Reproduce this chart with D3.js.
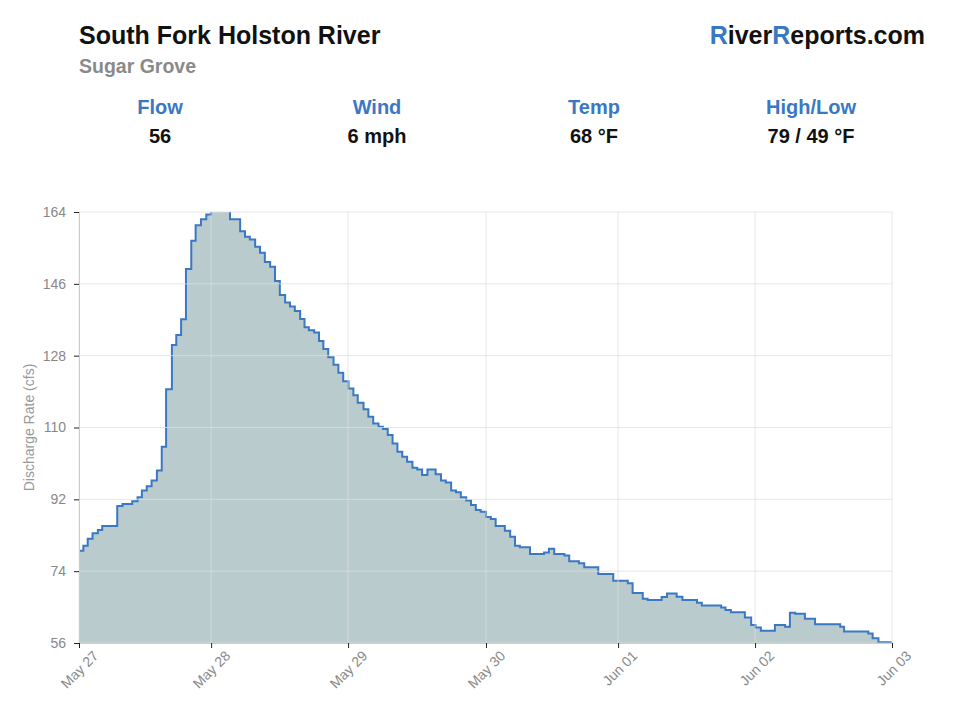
<!DOCTYPE html>
<html>
<head>
<meta charset="utf-8">
<script src="https://cdn.jsdelivr.net/npm/d3@7"></script>
<style>
  body { margin: 0; background: #fff; font-family: "Liberation Sans", Arial, sans-serif; }
</style>
</head>
<body>
<svg id="chart" width="960" height="720"></svg>
<script>
// hours since start of the window, and discharge (cfs) from that hour on
var hours = [0, 0.9, 1.8, 2.8, 3.9, 4.8, 7.9, 9.0, 11.0, 12.1, 13.0, 14.0, 15.0, 16.1, 17.1, 18.0,
  19.2, 20.1, 21.1, 22.1, 23.2, 24.1, 25.2, 26.3, 27.3, 28.2, 29.2, 30.2, 31.2, 33.3, 34.3, 35.3,
  36.4, 37.4, 38.4, 39.5, 40.5, 41.5, 42.6, 43.6, 44.6, 45.7, 46.6, 47.5, 48.6, 49.6, 50.5, 51.5,
  52.6, 53.6, 54.6, 55.7, 56.7, 57.6, 58.8, 59.8, 60.8, 61.9, 62.8, 63.8, 64.8, 65.8, 66.8, 67.8,
  68.9, 69.9, 70.9, 72.0, 73.7, 74.8, 75.8, 76.9, 77.9, 78.9, 80.0, 81.0, 82.0, 83.0, 84.1, 85.1,
  86.1, 88.0, 89.1, 90.1, 91.1, 93.2, 96.1, 97.1, 98.2, 100.3, 101.3, 103.3, 104.4, 107.3, 110.4,
  113.4, 114.4, 116.5, 117.5, 120.4, 121.5, 123.5, 124.7, 127.7, 128.7, 132.7, 133.6, 134.7, 137.6,
  138.9, 139.8, 140.9, 143.8, 145.9, 146.9, 148.0, 150.0, 152.1, 157.3, 158.1, 163.1, 164.0, 165.2, 168];
var flow = [79.1, 80.4, 82.1, 83.5, 84.3, 85.3, 90.3, 90.8, 91.5, 92.5, 94.2, 95.3, 96.7, 99.2, 105.2, 119.6,
  130.7, 133.2, 137.1, 149.7, 156.8, 160.7, 162.2, 163.4, 165, 166, 166, 165.5, 162.2, 159.2, 157.8, 157.1,
  155.3, 153.8, 151.5, 150.3, 146.7, 143.2, 141.3, 140.3, 139.2, 137.2, 135.1, 134.4, 133.8, 131.7, 129.7, 127.6,
  125.7, 123.7, 121.6, 119.8, 118.1, 116.2, 114.6, 112.7, 111.0, 110.2, 109.6, 108.1, 106.0, 103.9, 102.7, 101.4,
  99.9, 99.5, 98.1, 99.5, 98.3, 96.7, 96.2, 94.2, 93.8, 92.5, 91.7, 90.6, 89.3, 88.9, 87.6, 87.1,
  85.3, 84.1, 82.6, 80.4, 80.0, 78.3, 78.7, 79.6, 78.3, 77.9, 76.5, 76.0, 75.0, 73.3, 71.6,
  71.0, 68.5, 67.1, 66.8, 67.5, 68.4, 67.6, 66.8, 66.1, 65.4, 64.9, 64.3, 63.7, 62.4,
  60.5, 59.9, 59.1, 60.5, 60.1, 63.6, 63.3, 62.1, 60.7, 60.1, 58.9, 58.4, 57.2, 56.2, 56.0];

var tickHours = [0, 27.3, 55.6, 84.1, 111.4, 139.7, 168];
var tickLabels = ["May 27", "May 28", "May 29", "May 30", "Jun 01", "Jun 02", "Jun 03"];
var yTicks = [56, 74, 92, 110, 128, 146, 164];

var statNames = ["Flow", "Wind", "Temp", "High/Low"];
var statValues = ["56", "6 mph", "68 °F", "79 / 49 °F"];

var blue = "#3a78c3";
var svg = d3.select("#chart");

// header
svg.append("text").attr("x", 79).attr("y", 44)
  .style("font-size", "25px").style("font-weight", "bold").attr("fill", "#111")
  .text("South Fork Holston River");
svg.append("text").attr("x", 79).attr("y", 73)
  .style("font-size", "19.5px").style("font-weight", "bold").attr("fill", "#8a8a8a")
  .text("Sugar Grove");

var brand = svg.append("text").attr("x", 925).attr("y", 44).attr("text-anchor", "end")
  .style("font-size", "25px").style("font-weight", "bold").attr("fill", "#111");
brand.append("tspan").attr("fill", blue).text("R");
brand.append("tspan").text("iver");
brand.append("tspan").attr("fill", blue).text("R");
brand.append("tspan").text("eports.com");

var statX = d3.scalePoint().domain(statNames).range([160, 811]);
statNames.forEach(function (name, i) {
  svg.append("text").attr("x", statX(name)).attr("y", 114).attr("text-anchor", "middle")
    .style("font-size", "20px").style("font-weight", "bold").attr("fill", blue)
    .text(name);
  svg.append("text").attr("x", statX(name)).attr("y", 143).attr("text-anchor", "middle")
    .style("font-size", "20px").style("font-weight", "bold").attr("fill", "#111")
    .text(statValues[i]);
});

// chart area
var margin = { top: 212, right: 68, bottom: 77, left: 79 },
    width = 960 - margin.left - margin.right,
    height = 720 - margin.top - margin.bottom;

var g = svg.append("g").attr("transform", "translate(" + margin.left + "," + margin.top + ")");

var x = d3.scaleLinear().domain([0, 168]).range([0, width]);
var y = d3.scaleLinear().domain([56, 164]).range([height, 0]);

g.append("clipPath").attr("id", "clip")
  .append("rect").attr("width", width).attr("height", height);

var data = hours.map(function (h, i) { return { h: h, v: flow[i] }; });

var area = d3.area().curve(d3.curveStepAfter)
  .x(function (d) { return x(d.h); })
  .y0(height)
  .y1(function (d) { return y(d.v); });
var line = d3.line().curve(d3.curveStepAfter)
  .x(function (d) { return x(d.h); })
  .y(function (d) { return y(d.v); });

var plot = g.append("g").attr("clip-path", "url(#clip)");
plot.append("path").datum(data).attr("d", area).attr("fill", "#bacbcd");

// grid on top of the fill
g.selectAll(".hgrid").data(yTicks).enter().append("line")
  .attr("x1", 0).attr("x2", width)
  .attr("y1", function (d) { return y(d); }).attr("y2", function (d) { return y(d); })
  .attr("stroke", "#dddddd").attr("stroke-opacity", 0.75).attr("stroke-width", 1);
g.selectAll(".vgrid").data(tickHours).enter().append("line")
  .attr("y1", 0).attr("y2", height)
  .attr("x1", function (d) { return x(d); }).attr("x2", function (d) { return x(d); })
  .attr("stroke", "#dddddd").attr("stroke-opacity", 0.75).attr("stroke-width", 1);

plot.append("path").datum(data).attr("d", line)
  .attr("fill", "none").attr("stroke", blue).attr("stroke-width", 2);

// axes
var yAxis = g.append("g")
  .call(d3.axisLeft(y).tickValues(yTicks).tickSize(5).tickPadding(8));
yAxis.select(".domain").attr("stroke", "#ccc");
yAxis.selectAll(".tick line").attr("stroke", "#222");
yAxis.selectAll("text").attr("fill", "#888").style("font-size", "14px")
  .style("font-family", "Liberation Sans, Arial, sans-serif");

var xAxis = g.append("g").attr("transform", "translate(0," + height + ")")
  .call(d3.axisBottom(x).tickValues(tickHours)
    .tickFormat(function (d, i) { return tickLabels[i]; }).tickSize(5));
xAxis.select(".domain").attr("stroke", "#ccc");
xAxis.selectAll(".tick line").attr("stroke", "#222");
xAxis.selectAll("text").attr("fill", "#888").style("font-size", "14px")
  .style("font-family", "Liberation Sans, Arial, sans-serif")
  .attr("text-anchor", "end")
  .attr("transform", "translate(7,1) rotate(-45)");

svg.append("text")
  .attr("transform", "translate(34," + (margin.top + height / 2) + ") rotate(-90)")
  .attr("text-anchor", "middle").attr("fill", "#999").style("font-size", "14px")
  .text("Discharge Rate (cfs)");
</script>
</body>
</html>
